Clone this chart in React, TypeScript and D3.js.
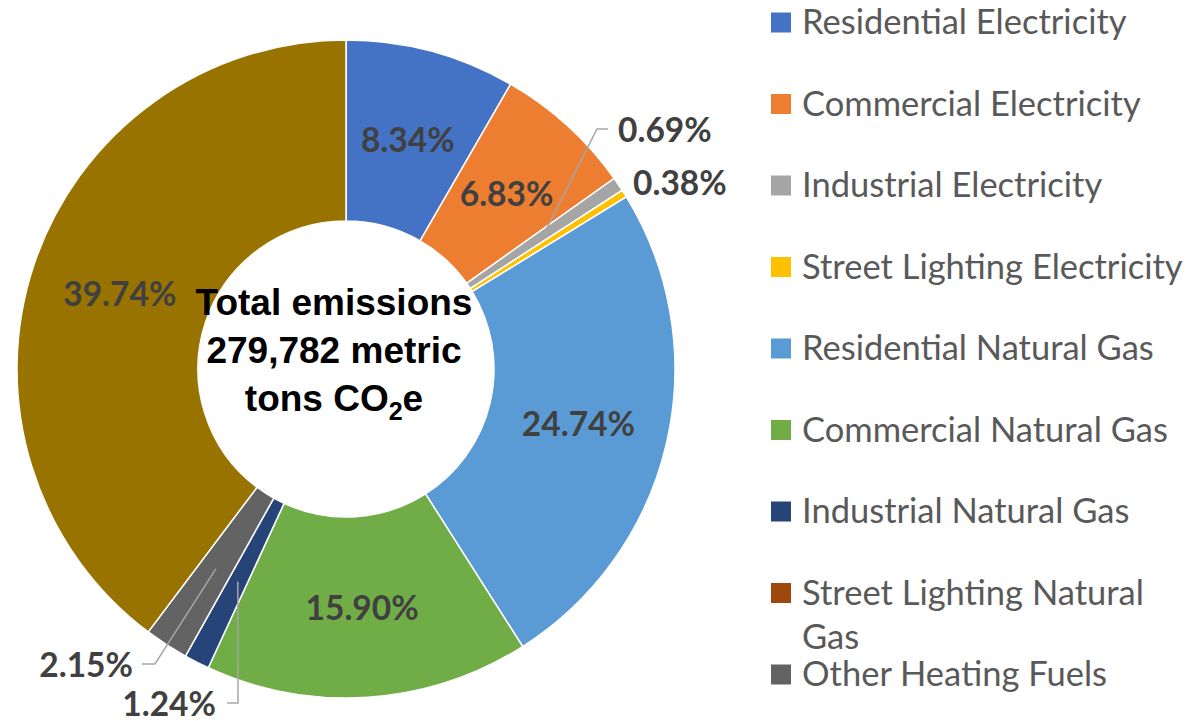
import { useEffect, useRef } from "react";
import * as d3 from "d3";

const categories = [
    "Residential Electricity",
    "Commercial Electricity",
    "Industrial Electricity",
    "Street Lighting Electricity",
    "Residential Natural Gas",
    "Commercial Natural Gas",
    "Industrial Natural Gas",
    "Street Lighting Natural Gas",
    "Other Heating Fuels",
    "Transportation",
];
const shares = [8.34, 6.83, 0.69, 0.38, 24.74, 15.9, 1.24, 0.0, 2.15, 39.74];
const colors = [
    "#4472C4", "#ED7D31", "#A5A5A5", "#FFC000", "#5B9BD5",
    "#70AD47", "#264478", "#9E480E", "#636363", "#997300",
];
const centerLines = ["Total emissions", "279,782 metric"];

// labels that sit outside the ring (offsets from centre)
const outsideLabels: Record<number, { dx: number; dy: number; anchor: string; lineFrom?: number; elbow?: number }> = {
    2: { dx: 272, dy: -240, anchor: "start", lineFrom: 262, elbow: 251 },
    3: { dx: 287, dy: -187, anchor: "start" },
    8: { dx: -213, dy: 295, anchor: "end", lineFrom: -204, elbow: -191 },
    6: { dx: -130, dy: 334, anchor: "end", lineFrom: -119, elbow: -108 },
};

type Row = { name: string; value: number; color: string; i: number };

export default function App() {
    const ref = useRef<SVGSVGElement | null>(null);

    useEffect(() => {
        document.body.style.margin = "0";
        if (!ref.current) return;
        const width = 1202;
        const height = 721;
        const cx = 346;
        const cy = 369;
        const outer = 329;
        const inner = 148;

        const root = d3.select(ref.current);
        root.selectAll("*").remove();
        root.attr("width", width).attr("height", height);

        const data: Row[] = categories.map((name, i) => ({ name, value: shares[i], color: colors[i], i }));

        const pie = d3.pie<Row>().value((d) => d.value).sort(null);
        const arc = d3.arc<d3.PieArcDatum<Row>>().innerRadius(inner).outerRadius(outer);
        const arcs = pie(data);

        const g = root.append("g").attr("transform", `translate(${cx},${cy})`);

        g.selectAll("path")
            .data(arcs.filter((d) => d.data.value > 0))
            .enter()
            .append("path")
            .attr("d", arc)
            .attr("fill", (d) => d.data.color)
            .attr("stroke", "#fff")
            .attr("stroke-width", 1.5);

        const labelFont = "Lato, 'Open Sans', sans-serif";
        const labelSize = 33.5;

        arcs.forEach((d) => {
            if (d.data.value <= 0) return;
            const txt = d.data.value.toFixed(2) + "%";
            const out = outsideLabels[d.data.i];
            const [px, py] = arc.centroid(d);
            if (!out) {
                g.append("text")
                    .attr("x", px)
                    .attr("y", py)
                    .attr("text-anchor", "middle")
                    .attr("dominant-baseline", "central")
                    .attr("font-family", labelFont)
                    .attr("font-weight", "bold")
                    .attr("font-size", labelSize)
                    .attr("fill", "#404040")
                    .text(txt);
                return;
            }
            if (out.lineFrom !== undefined && out.elbow !== undefined) {
                const ly = out.dy;
                g.append("polyline")
                    .attr("points", `${out.lineFrom},${ly} ${out.elbow},${ly} ${px},${py}`)
                    .attr("fill", "none")
                    .attr("stroke", "#A6A6A6")
                    .attr("stroke-width", 1.5);
            }
            g.append("text")
                .attr("x", out.dx)
                .attr("y", out.dy)
                .attr("text-anchor", out.anchor)
                .attr("dominant-baseline", "central")
                .attr("font-family", labelFont)
                .attr("font-weight", "bold")
                .attr("font-size", labelSize)
                .attr("fill", "#404040")
                .text(txt);
        });

        // centre text
        const ct = root.append("g")
            .attr("font-family", "'Liberation Sans', Arial, sans-serif")
            .attr("font-weight", "bold")
            .attr("font-size", 37)
            .attr("fill", "#000")
            .attr("text-anchor", "middle");
        centerLines.forEach((line, i) => {
            ct.append("text").attr("x", 334).attr("y", 315 + i * 48).text(line);
        });
        const last = ct.append("text").attr("x", 334).attr("y", 411);
        last.append("tspan").text("tons CO");
        last.append("tspan").attr("font-size", 25).attr("dy", 9).text("2");
        last.append("tspan").attr("dy", -9).text("e");

        // legend (the last entry falls below the visible area, as in the source)
        const y = d3.scaleLinear().domain([0, 1]).range([22.5, 104]);
        const legendItems = data.filter((d, i) => y(i) + 12 < height);
        const lg = root.append("g")
            .attr("font-family", "Lato, 'Open Sans', sans-serif")
            .attr("font-size", 34.5)
            .attr("fill", "#595959");
        legendItems.forEach((d, i) => {
            const yc = y(i);
            lg.append("rect")
                .attr("x", 771)
                .attr("y", yc - 10)
                .attr("width", 20)
                .attr("height", 20)
                .attr("fill", d.color);
            const words = d.name === "Street Lighting Natural Gas" ? ["Street Lighting Natural", "Gas"] : [d.name];
            words.forEach((w, k) => {
                lg.append("text")
                    .attr("x", 802)
                    .attr("y", yc + 11.5 + k * 44)
                    .text(w);
            });
        });
    }, []);

    return <svg ref={(el) => { if (el) ref.current = el; }} style={{ display: "block" }}></svg>;
}
